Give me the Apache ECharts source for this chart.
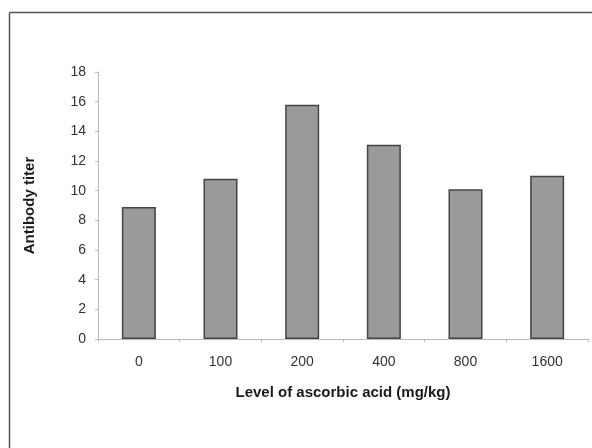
<!DOCTYPE html>
<html><head><meta charset="utf-8">
<script src="https://cdn.jsdelivr.net/npm/echarts@6/dist/echarts.min.js"></script>
<style>html,body{margin:0;padding:0;background:#fff}#c{width:592px;height:448px}</style>
</head><body><div id="c"></div>
<script>
const categories = ['0','100','200','400','800','1600'];
const titerValues = [8.9, 10.8, 15.8, 13.1, 10.1, 11.0];
const yTicks = [0,2,4,6,8,10,12,14,16,18];

const chart = echarts.init(document.getElementById('c'));
chart.setOption({
  backgroundColor:'#fff',
  animation:false,
  graphic:[
    {type:'line',shape:{x1:9.5,y1:12.5,x2:592,y2:12.5},style:{stroke:'#555',lineWidth:1.5}},
    {type:'line',shape:{x1:9.5,y1:12.5,x2:9.5,y2:448},style:{stroke:'#555',lineWidth:1.5}}
  ],
  grid:{left:98,right:4,top:72,bottom:109},
  xAxis:{
    type:'category',data:categories,
    name:'Level of ascorbic acid (mg/kg)',nameLocation:'middle',nameGap:46,
    nameTextStyle:{fontFamily:'Liberation Sans',fontSize:15,fontWeight:'bold',color:'#1a1a1a'},
    axisLine:{lineStyle:{color:'#bbb'}},
    axisTick:{show:true,alignWithLabel:false,length:3,lineStyle:{color:'#bbb'}},
    axisLabel:{fontFamily:'Liberation Sans',fontSize:14,color:'#333',margin:16}
  },
  yAxis:{
    type:'value',min:0,max:18,interval:2,
    name:'Antibody titer',nameLocation:'middle',nameGap:61,nameRotate:90,
    nameTextStyle:{fontFamily:'Liberation Sans',fontSize:15,fontWeight:'bold',color:'#1a1a1a'},
    axisLine:{show:true,lineStyle:{color:'#bbb'}},
    axisTick:{show:true,length:3,lineStyle:{color:'#bbb'}},
    splitLine:{show:false},
    axisLabel:{fontFamily:'Liberation Sans',fontSize:14,color:'#333',margin:12,
      formatter:v=>yTicks.includes(v)?String(v):''}
  },
  series:[{
    type:'bar',data:titerValues,barWidth:34,
    itemStyle:{color:'#9a9a9a',borderColor:'#444',borderWidth:1.5}
  }]
});
</script></body></html>
